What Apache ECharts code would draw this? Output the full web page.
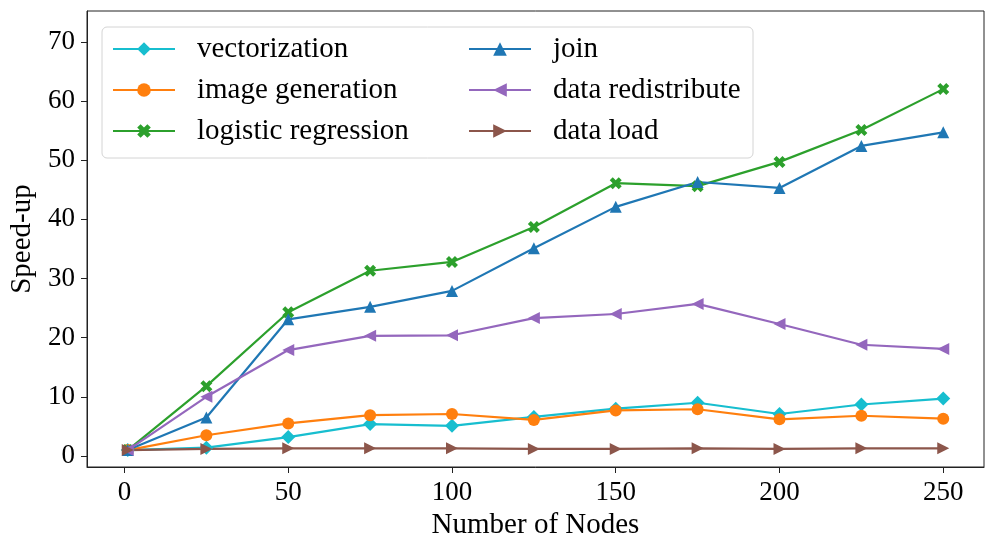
<!DOCTYPE html>
<html>
<head>
<meta charset="utf-8">
<script src="https://cdn.jsdelivr.net/npm/echarts@6/dist/echarts.min.js"></script>
<style>html,body{margin:0;padding:0;background:#fff}#c{width:985px;height:536px}</style>
</head>
<body>
<div id="c"></div>
<script>
const nodes = [1, 25, 50, 75, 100, 125, 150, 175, 200, 225, 250];
const vectorization = [1.0, 1.4, 3.2, 5.4, 5.1, 6.6, 8.0, 9.0, 7.1, 8.7, 9.7];
const imageGeneration = [1.0, 3.5, 5.5, 6.9, 7.1, 6.1, 7.7, 7.9, 6.2, 6.8, 6.3];
const logisticRegression = [1.0, 11.8, 24.3, 31.3, 32.8, 38.7, 46.1, 45.6, 49.7, 55.1, 62.0];
const join = [1.0, 6.5, 23.1, 25.2, 27.9, 35.1, 42.1, 46.3, 45.3, 52.4, 54.7];
const dataRedistribute = [1.0, 10.0, 17.9, 20.3, 20.4, 23.3, 24.0, 25.7, 22.3, 18.8, 18.1];
const dataLoad = [1.0, 1.2, 1.3, 1.3, 1.3, 1.2, 1.2, 1.3, 1.2, 1.3, 1.3];
const xTicks = [0, 50, 100, 150, 200, 250];
const yTicks = [0, 10, 20, 30, 40, 50, 60, 70];

const FONT = "'Liberation Serif','Times New Roman',serif";
const MK = {
  diamond: 'path://M0,-1L1,0L0,1L-1,0Z',
  xfill: 'path://M-1,-2L0,-1L1,-2L2,-1L1,0L2,1L1,2L0,1L-1,2L-2,1L-1,0L-2,-1Z',
  left: 'path://M-1,0L1,-1.1L1,1.1Z',
  right: 'path://M1,0L-1,-1.1L-1,1.1Z',
  up: 'path://M0,-1L1.1,1L-1.1,1Z'
};
function mk(name, arr, color, symbol, size) {
  return {
    name: name, type: 'line',
    data: nodes.map((x, i) => [x, arr[i]]),
    symbol: symbol, symbolSize: size, showSymbol: true,
    lineStyle: {color: color, width: 2.2},
    itemStyle: {color: color, borderWidth: 0},
    emphasis: {disabled: true},
    animation: false
  };
}
const chart = echarts.init(document.getElementById('c'), null, {renderer: 'canvas'});
const legendCommon = {
  orient: 'vertical', itemWidth: 62, itemHeight: 17, itemGap: 11, padding: 0,
  textStyle: {fontFamily: FONT, fontSize: 29, color: '#000', lineHeight: 30, padding: [0, 0, 0, 17]},
  inactiveColor: '#ccc', selectedMode: false
};
chart.setOption({
  backgroundColor: '#fff',
  animation: false,
  grid: {left: 87, right: 1, top: 11, bottom: 69, show: true, borderColor: '#222', borderWidth: 1,
         containLabel: false, outerBoundsMode: 'none'},
  graphic: [{
    type: 'rect', z: 50, silent: true,
    shape: {x: 102, y: 27, width: 651, height: 131, r: 5},
    style: {fill: 'rgba(255,255,255,0.85)', stroke: '#d4d4d4', lineWidth: 1}
  }],
  legend: [
    Object.assign({}, legendCommon, {left: 112, top: 34, z: 60, data: ['vectorization', 'image generation', 'logistic regression']}),
    Object.assign({}, legendCommon, {left: 468, top: 34, z: 60, data: ['join', 'data redistribute', 'data load']})
  ],
  xAxis: {
    type: 'value', min: -11.45, max: 262.45,
    name: 'Number of Nodes', nameLocation: 'middle', nameGap: 40,
    nameTextStyle: {fontFamily: FONT, fontSize: 29, color: '#000'},
    axisLine: {show: true, onZero: false, lineStyle: {color: '#222', width: 1}},
    axisTick: {show: true, length: 6, inside: false, lineStyle: {color: '#222'}, customValues: xTicks},
    axisLabel: {fontFamily: FONT, fontSize: 27, color: '#000', margin: 12, customValues: xTicks},
    splitLine: {show: false}
  },
  yAxis: {
    type: 'value', min: -1.86, max: 75.2,
    name: 'Speed-up', nameLocation: 'middle', nameGap: 40,
    nameTextStyle: {fontFamily: FONT, fontSize: 29, color: '#000'},
    axisLine: {show: true, onZero: false, lineStyle: {color: '#222', width: 1}},
    axisTick: {show: true, length: 6, inside: false, lineStyle: {color: '#222'}, customValues: yTicks},
    axisLabel: {fontFamily: FONT, fontSize: 27, color: '#000', margin: 12, customValues: yTicks},
    splitLine: {show: false}
  },
  series: [
    mk('vectorization', vectorization, '#17becf', MK.diamond, 14),
    mk('image generation', imageGeneration, '#ff7f0e', 'circle', 12),
    mk('logistic regression', logisticRegression, '#2ca02c', MK.xfill, 12),
    mk('join', join, '#1f77b4', MK.up, 12),
    mk('data redistribute', dataRedistribute, '#9467bd', MK.left, 12),
    mk('data load', dataLoad, '#8c564b', MK.right, 12)
  ]
});
</script>
</body>
</html>
